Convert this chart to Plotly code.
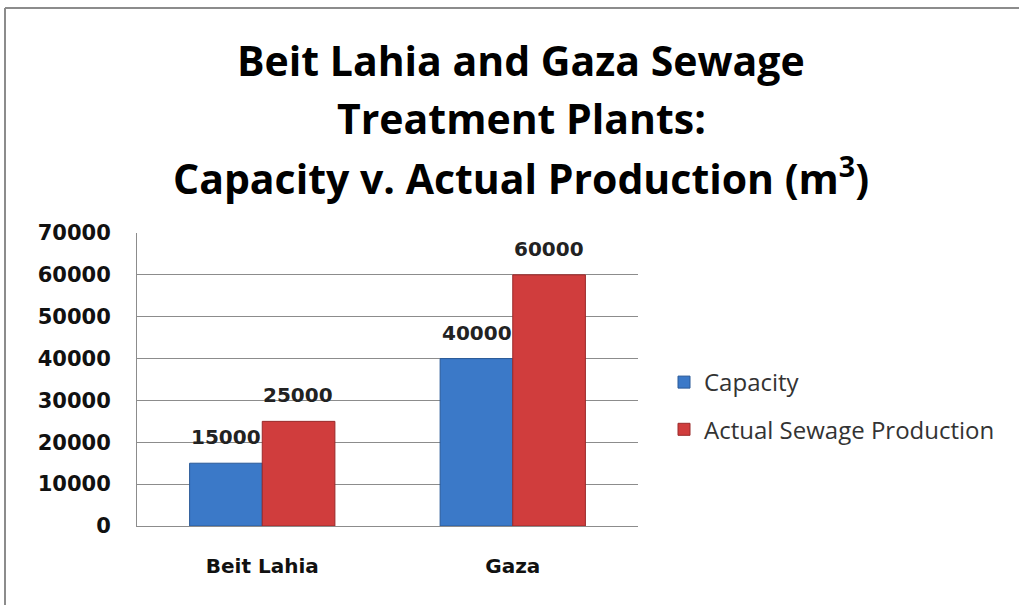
import plotly.graph_objects as go

categories = ["Beit Lahia", "Gaza"]
capacity = [15000, 40000]
actual = [25000, 60000]
series_names = ["Capacity", "Actual Sewage Production"]
y_ticks = [0, 10000, 20000, 30000, 40000, 50000, 60000, 70000]
title_lines = ["Beit Lahia and Gaza Sewage", "Treatment Plants:",
               "Capacity v. Actual Production (m<sup>3</sup>)"]

W, H = 1019, 605
L, R, T, B = 137, 381, 233, 79
pw, ph = W - L - R, H - T - B

def px_x(x):
    return (x - L) / pw

def px_y(y):
    return (H - B - y) / ph

fig = go.Figure()
fig.add_trace(go.Bar(
    x=categories, y=capacity, name=series_names[0], legendgroup="a",
    marker=dict(color="#3b79c8", line=dict(color="#2a5a98", width=1)),
))
fig.add_trace(go.Bar(
    x=categories, y=actual, name=series_names[1], legendgroup="b",
    marker=dict(color="#d03d3d", line=dict(color="#9a2a2a", width=1)),
))

label_font = dict(family="DejaVu Sans", size=20, color="#222222", weight="bold")
for vals, shift in ((capacity, -36), (actual, 36)):
    for cat, v in zip(categories, vals):
        fig.add_annotation(x=cat, y=v, text=str(v), showarrow=False,
                           xshift=shift, yshift=26, yanchor="middle",
                           font=label_font)

ys = [60, 118, 176]
for line, yy in zip(title_lines, ys):
    fig.add_annotation(text="<b>" + line + "</b>", x=px_x(521), y=px_y(yy),
                       xref="paper", yref="paper", showarrow=False,
                       xanchor="center", yanchor="middle",
                       font=dict(family="Open Sans", size=41, color="#000000"))

# outer border (top and left)
fig.add_shape(type="line", xref="paper", yref="paper",
              x0=px_x(5), x1=px_x(1019), y0=px_y(8), y1=px_y(8),
              line=dict(color="#8c8c8c", width=2))
fig.add_shape(type="line", xref="paper", yref="paper",
              x0=px_x(5), x1=px_x(5), y0=px_y(8), y1=px_y(605),
              line=dict(color="#8c8c8c", width=2))

fig.update_layout(
    width=W, height=H,
    margin=dict(l=L, r=R, t=T, b=B, autoexpand=False),
    paper_bgcolor="white", plot_bgcolor="white",
    barmode="group", bargap=0.42, bargroupgap=0,
    showlegend=True,
    legend=dict(x=px_x(664), y=px_y(406), xanchor="left", yanchor="middle",
                traceorder="grouped", tracegroupgap=13,
                font=dict(family="Open Sans", size=24, color="#333333")),
    xaxis=dict(showgrid=False, showline=True, linecolor="#8c8c8c", linewidth=1,
               ticks="", ticklabelstandoff=22,
               tickfont=dict(family="DejaVu Sans", size=20, color="#111111", weight="bold")),
    yaxis=dict(range=[0, 70000], tickvals=y_ticks, ticktext=[str(v) for v in y_ticks],
               showgrid=True, gridcolor="#8c8c8c", gridwidth=1,
               showline=True, linecolor="#8c8c8c", linewidth=1, ticks="",
               ticklabelstandoff=21, zeroline=False,
               tickfont=dict(family="DejaVu Sans", size=21, color="#111111", weight="bold")),
)

fig.write_html("out.html", config={"displayModeBar": False},
               post_script="document.body.style.margin='0';")
